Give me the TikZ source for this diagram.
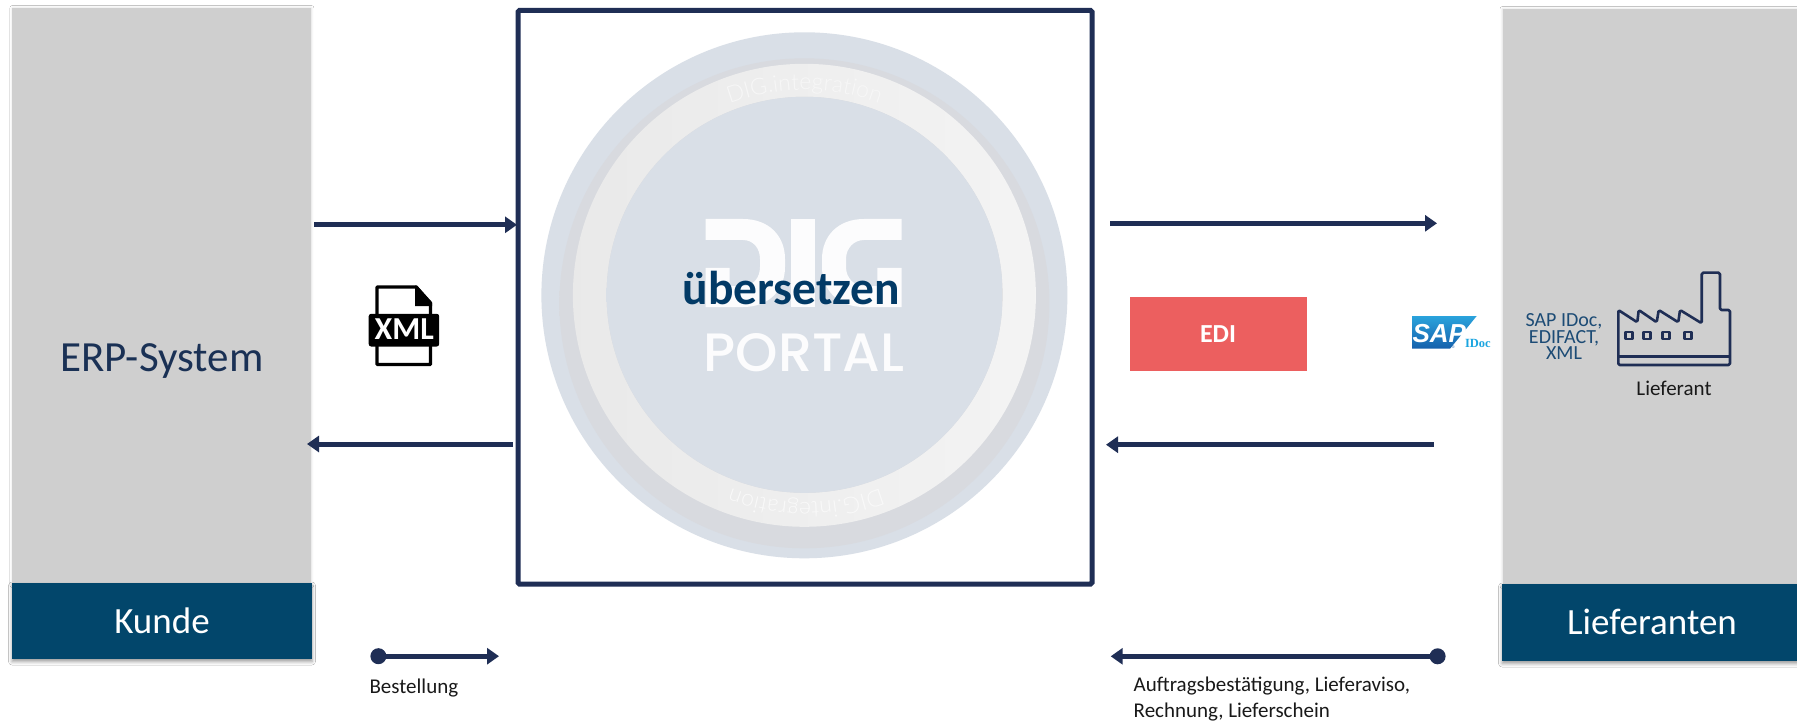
\documentclass[tikz,border=0pt]{standalone}
\usepackage{fontspec}
\setmainfont{Carlito}
\newfontfamily\portalfont{Poppins Medium}
\newfontfamily\ringfont{Lato Light}
\newfontfamily\idocfont{Liberation Serif}
\newfontfamily\sapfont{Liberation Sans}
\usetikzlibrary{arrows.meta,shadows.blur,decorations.text,calc}
\definecolor{navy}{HTML}{1F2E55}
\definecolor{blockgray}{HTML}{CFCFCF}
\definecolor{petrol}{HTML}{02466B}
\definecolor{disc}{HTML}{D9DFE7}
\definecolor{discshade}{HTML}{D8D9DD}
\definecolor{edired}{HTML}{EC5F5F}
\definecolor{logowhite}{HTML}{FCFCFD}
\definecolor{darkbluetxt}{HTML}{023A66}
\definecolor{erptxt}{HTML}{1A3155}
\definecolor{stdtxt}{HTML}{1C4B75}
\definecolor{saptop}{HTML}{2AA3DC}
\definecolor{sapbot}{HTML}{1560AC}
\definecolor{idoc}{HTML}{1BA5E0}
\colorlet{bandmix}{discshade!85!disc}
\pgfdeclareradialshading{bandshade}{\pgfpoint{0bp}{0bp}}{color(0bp)=(bandmix); color(45bp)=(bandmix); color(48.5bp)=(disc); color(50bp)=(disc)}
\pgfdeclareradialshading{innershade}{\pgfpoint{0bp}{0bp}}{color(0bp)=(disc); color(42bp)=(disc); color(50bp)=(discshade)}
\tikzset{
  blockbox/.style={draw=none,fill=blockgray,anchor=north west,inner sep=0pt,outer sep=0pt,
    blur shadow={shadow xshift=0pt,shadow yshift=0pt,shadow blur radius=2.5pt,shadow opacity=15}},
  headbox/.style={draw=none,fill=petrol,anchor=north west,inner sep=0pt,outer sep=0pt,
    blur shadow={shadow xshift=0pt,shadow yshift=-2.5pt,shadow blur radius=3.5pt,shadow opacity=40}},
  flow/.style={draw=navy,line width=5pt,-{Triangle[length=12pt,width=16pt]}},
  dotmark/.style={circle,fill=navy,draw=none,minimum size=16pt,inner sep=0pt},
  lbl/.style={anchor=base west,inner sep=0pt,outer sep=0pt},
  lblc/.style={anchor=base,inner sep=0pt,outer sep=0pt},
  icon/.style={draw=navy,line width=2.6pt,line join=round},
}
\begin{document}
\begin{tikzpicture}[x=1pt,y=-1pt]
\useasboundingbox (0,0) rectangle (1797,722);
\fill[white] (0,0) rectangle (1797,722);

% side blocks
\node[blockbox,minimum width=299pt,minimum height=577pt] (erp) at (12.4,8) {};
\node[headbox,minimum width=300pt,minimum height=76pt] (kunde) at (12,583) {};
\node[blockbox,minimum width=296pt,minimum height=577pt] (lief) at (1502.5,9) {};
\node[headbox,minimum width=296pt,minimum height=77pt] (liefh) at (1502,584) {};
\node[lblc,text=erptxt,font=\fontsize{43}{43}\selectfont] (erpt) at (162,371) {ERP-System};
\node[lblc,text=white,font=\fontsize{37}{37}\selectfont] (kundet) at (162,633) {Kunde};
\node[lblc,text=white,font=\fontsize{37}{37}\selectfont] (lieft) at (1652,634) {Lieferanten};

% disc
\fill[disc] (804.4,295.3) circle[radius=263];
\begin{scope}
  \clip (804.4,295.3) circle[radius=263];
  \shade[shading=bandshade] (804.4,303.3) circle[radius=245];
\end{scope}
\shade[left color=black!8.5,right color=black!4.5] (804.4,295.3) circle[radius=231.5];
\fill[discshade] (804.6,294.8) circle[radius=198];
\begin{scope}
  \clip (804.6,294.8) circle[radius=198];
  \shade[shading=innershade] (804.6,316) circle[radius=220];
\end{scope}
% ring lettering
\path[postaction={decorate},decoration={text along path,text align=center,
  text={|\ringfont\fontsize{23}{23}\selectfont\color{black!3}|DIG.integration}}]
  (664.4,143.2) .. controls (743,72.2) and (865.8,72.2) .. (944.4,143.2);
\path[postaction={decorate},decoration={text along path,text align=center,
  text={|\ringfont\fontsize{23}{23}\selectfont\color{black!2.5}|DIG.integration}}]
  (944.5,449.1) .. controls (865.8,520) and (746.2,520) .. (667.5,449.1);
% DIG logo
\fill[logowhite] (705.5,219) -- (743,219) .. controls (769,219) and (785,236) .. (785,259)
  -- (785,267) .. controls (785,290) and (769,307) .. (743,307) -- (705.5,307) -- (705.5,268)
  -- (729.6,268) -- (729.6,286) -- (743,286) .. controls (753,286) and (760,278) .. (760,267)
  -- (760,259) .. controls (760,248) and (753,240) .. (743,240) -- (705.5,240) -- cycle;
\fill[logowhite] (790.8,219.3) rectangle (814.6,307);
\fill[logowhite] (901.5,219) -- (864,219) .. controls (838,219) and (822,236) .. (822,259)
  -- (822,267) .. controls (822,290) and (838,307) .. (864,307) -- (901.5,307) -- (901.5,268)
  -- (877.4,268) -- (877.4,286) -- (864,286) .. controls (854,286) and (846,278) .. (846,267)
  -- (846,259) .. controls (846,248) and (854,240) .. (864,240) -- (901.5,240) -- cycle;
\node[lblc,text=logowhite,font=\portalfont\fontsize{54}{54}\selectfont] (portalt) at (804,371.7) {PORTAL};
\node[lblc,text=darkbluetxt,font=\bfseries\fontsize{47.5}{47.5}\selectfont] (uebers) at (791.5,305) {übersetzen};

% portal frame
\node[draw=navy,line width=5pt,outer sep=0pt,rounded corners=1.5pt,minimum width=574pt,minimum height=573.5pt,anchor=north west,inner sep=0pt] (portal) at (518,10.5) {};

% connectors
\coordinate (a1s) at (314,224.8);
\coordinate (a2s) at (513,444);
\coordinate (a2e) at (307,444);
\coordinate (a3s) at (1110,223.3);
\coordinate (a3e) at (1437,223.3);
\coordinate (a4s) at (1433.5,444.7);
\coordinate (a4e) at (1106,444.7);
\draw[flow] (a1s) -- ([xshift=-1pt]portal.west |- a1s);
\draw[flow] (a2s) -- (a2e);
\draw[flow] (a3s) -- (a3e);
\draw[flow] (a4s) -- (a4e);
\node[dotmark] (dotl) at (378.4,656.2) {};
\coordinate (dotle) at (499,656.2);
\draw[flow] (dotl.center) -- (dotle);
\node[dotmark] (dotr) at (1437.6,656.3) {};
\coordinate (dotre) at (1110.7,656.3);
\draw[flow] (dotr.center) -- (dotre);

% legend
\node[lbl,text=black!90,font=\fontsize{21}{21}\selectfont] (best) at (369.5,693) {Bestellung};
\node[lbl,text=black!90,font=\fontsize{21}{21}\selectfont] (auf1) at (1133.7,691.7) {Auftragsbestätigung, Lieferaviso,};
\node[lbl,text=black!90,font=\fontsize{21}{21}\selectfont] (auf2) at (1133.7,717.3) {Rechnung, Lieferschein};

% XML file icon
\draw[black,line width=3.4pt,line join=round] (377,287) -- (416,287) -- (430.5,303) -- (430.5,364.5) -- (377,364.5) -- cycle;
\fill[black] (415,285.5) -- (417,285.5) -- (432.2,303) -- (432.2,306) -- (415,306) -- cycle;
\node[fill=black,rounded corners=2.5pt,minimum width=70.5pt,minimum height=32.7pt,inner sep=0pt,anchor=north west] (xmlband) at (368.5,313.6) {};
\node[lblc,text=white,font=\bfseries\fontsize{32}{32}\selectfont] (xmlt) at (404.3,339.4) {XML};

% EDI
\node[fill=edired,draw=none,minimum width=177pt,minimum height=73.7pt,inner sep=0pt,anchor=north west] (edi) at (1130,297) {};
\node[lblc,text=white,font=\bfseries\fontsize{26}{26}\selectfont] (edit) at (1218,342) {EDI};

% SAP logo
\shade[top color=saptop,bottom color=sapbot] (1412,316) -- (1476.7,316) -- (1450,348.7) -- (1412,348.7) -- cycle;
\node[lbl,text=white,font=\sapfont\bfseries\itshape\fontsize{26}{26}\selectfont] (sapt) at (1412.5,342.5) {SAP};
\node[lbl,text=sapbot,font=\sapfont\fontsize{4}{4}\selectfont] (sapr) at (1451.5,348.5) {®};
\node[lbl,text=idoc,font=\idocfont\bfseries\fontsize{12.5}{12.5}\selectfont] (idoct) at (1465,347) {IDoc};

% standards
\node[lblc,text=stdtxt,font=\fontsize{20}{20}\selectfont] (std1) at (1564,326.7) {SAP IDoc,};
\node[lblc,text=stdtxt,font=\fontsize{20}{20}\selectfont] (std2) at (1564,343) {EDIFACT,};
\node[lblc,text=stdtxt,font=\fontsize{20}{20}\selectfont] (std3) at (1564,359) {XML};

% factory icon
\draw[icon,rounded corners=1.5pt] (1618.3,365) -- (1618.3,310) -- (1637.3,322.3) -- (1638.7,310) -- (1656.7,322.3) -- (1658.7,310) -- (1678.3,322.3) -- (1680,310) -- (1701.7,323.3) -- (1701.7,272.7) -- (1720,272.7) -- (1720,310) -- (1730,310) -- (1730,365) -- cycle;
\draw[icon] (1618.3,356.7) -- (1730,356.7);
\foreach \wx in {1628.7,1647,1665.7,1688}{
  \draw[icon] (\wx-3.5,331.8) rectangle (\wx+3.5,338.8);
}
\node[lblc,text=black!90,font=\fontsize{21}{21}\selectfont] (lieferant) at (1674,395) {Lieferant};
\end{tikzpicture}
\end{document}
